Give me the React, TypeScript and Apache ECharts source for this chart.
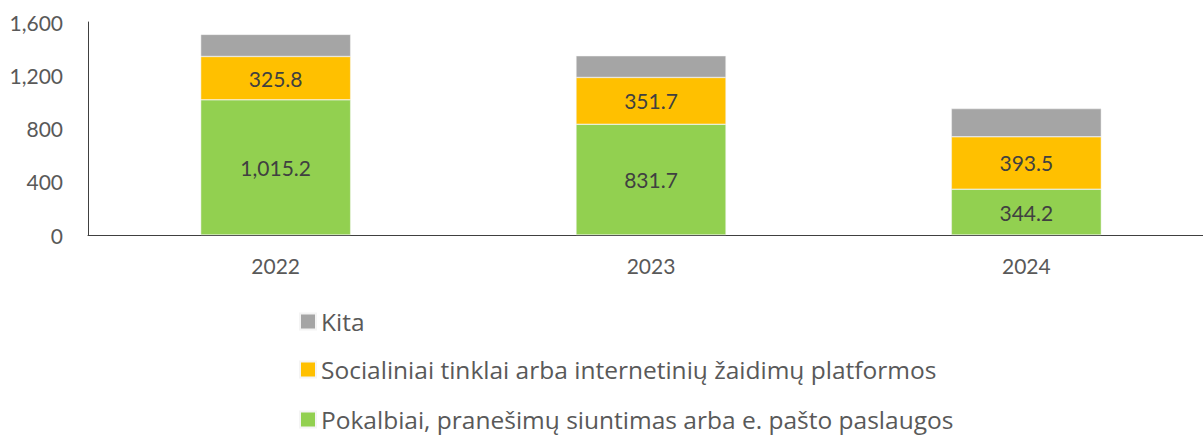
import React, { useEffect, useRef } from "react";
import * as echarts from "echarts";

const categories = ["2022", "2023", "2024"];
const pokalbiai = [1015.2, 831.7, 344.2];
const socialiniai = [325.8, 351.7, 393.5];
const kita = [166, 163, 212];
const yTicks = [0, 400, 800, 1200, 1600];

const nameKita = "Kita";
const nameSoc = "Socialiniai tinklai arba internetinių žaidimų platformos";
const namePok = "Pokalbiai, pranešimų siuntimas arba e. pašto paslaugos";
const legendOrder = [nameKita, nameSoc, namePok];

const FONT = "Lato";
const LEGEND_FONT = "Open Sans";

const fmt = (v: number) =>
  v.toLocaleString("en-US", { minimumFractionDigits: 1, maximumFractionDigits: 1 });

export default function App() {
  const ref = useRef<HTMLDivElement>(null);
  useEffect(() => {
    if (!ref.current) return;
    const chart = echarts.init(ref.current, undefined, { renderer: "svg" });
    const labelStyle = {
      show: true,
      position: "inside" as const,
      color: "#404040",
      fontSize: 21,
      fontFamily: FONT,
      formatter: (p: any) => fmt(p.value),
    };
    const itemBase = { borderColor: "#f4f4f4", borderWidth: 0.5 };
    const legendTops = [309, 357, 407];
    chart.setOption({
      animation: false,
      textStyle: { fontFamily: FONT },
      grid: { left: 88, top: 22, width: 1126, bottom: 200, outerBoundsMode: "none" },
      legend: legendOrder.map((name, i) => ({
        orient: "vertical",
        left: 299,
        top: legendTops[i],
        padding: 0,
        itemWidth: 16,
        itemHeight: 16,
        icon: "rect",
        data: [name],
        textStyle: { fontSize: 24.5, color: "#595959", fontFamily: LEGEND_FONT },
      })),
      xAxis: {
        type: "category",
        data: categories,
        axisLine: { show: true, lineStyle: { color: "#404040", width: 1 } },
        axisTick: { show: false },
        axisLabel: { color: "#595959", fontSize: 21, fontFamily: FONT, margin: 20 },
      },
      yAxis: {
        type: "value",
        min: yTicks[0],
        max: yTicks[yTicks.length - 1],
        interval: 400,
        axisLine: { show: true, lineStyle: { color: "#404040", width: 1 } },
        axisTick: { show: false },
        splitLine: { show: false },
        axisLabel: {
          color: "#595959",
          fontSize: 21,
          fontFamily: FONT,
          margin: 25,
          formatter: (v: number) => v.toLocaleString("en-US"),
        },
      },
      series: [
        {
          name: namePok,
          type: "bar",
          stack: "total",
          data: pokalbiai,
          barWidth: 150,
          itemStyle: { color: "#92D050", ...itemBase },
          label: labelStyle,
        },
        {
          name: nameSoc,
          type: "bar",
          stack: "total",
          data: socialiniai,
          barWidth: 150,
          itemStyle: { color: "#FFC000", ...itemBase },
          label: labelStyle,
        },
        {
          name: nameKita,
          type: "bar",
          stack: "total",
          data: kita,
          barWidth: 150,
          itemStyle: { color: "#A5A5A5", ...itemBase },
          label: { show: false },
        },
      ],
    });
    return () => chart.dispose();
  }, []);
  return (
    <div
      ref={ref}
      style={{ position: "absolute", left: 0, top: 0, width: 1203, height: 435 }}
    />
  );
}
